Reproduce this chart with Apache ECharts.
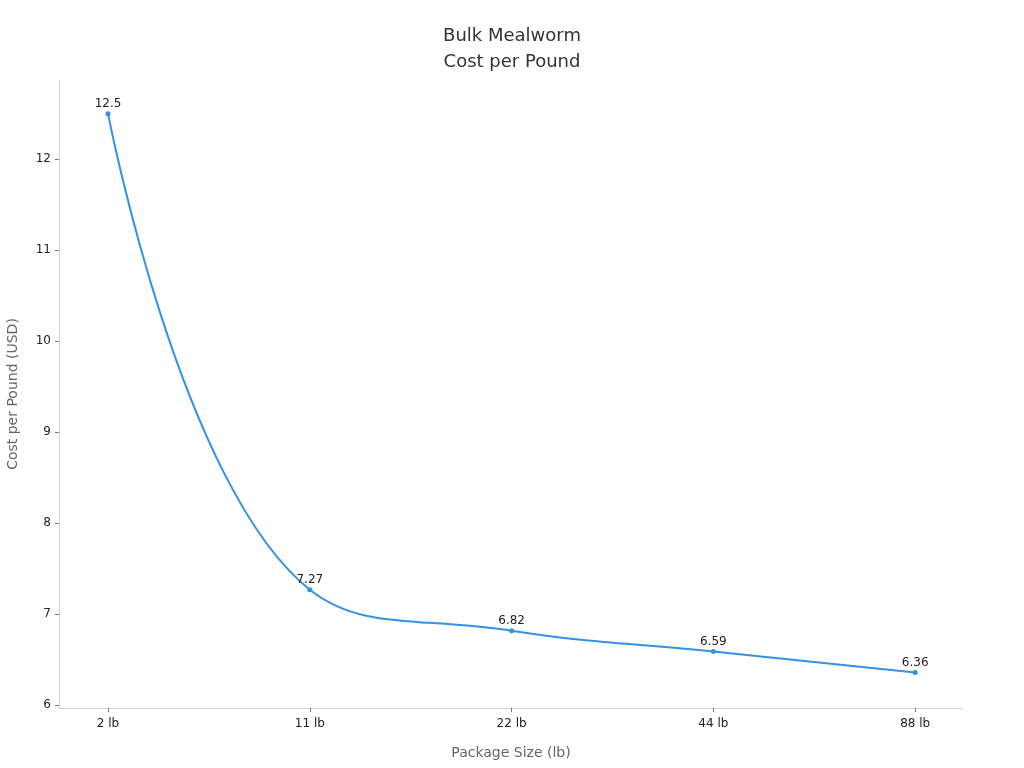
<!DOCTYPE html>
<html>
<head>
<meta charset="utf-8">
<script src="https://cdn.jsdelivr.net/npm/echarts@6/dist/echarts.min.js"></script>
<style>
  html, body { margin: 0; padding: 0; background: #fff; }
  #chart-container { width: 1024px; height: 768px; }
</style>
</head>
<body>
<div id="chart-container"></div>
<script>
// chart data
const packageSizes = ['2 lb', '11 lb', '22 lb', '44 lb', '88 lb'];
const costPerPound = [12.5, 7.27, 6.82, 6.59, 6.36];
const yTickValues = [6, 7, 8, 9, 10, 11, 12];

let myChart = echarts.init(document.getElementById('chart-container'));

// x positions are the category indexes, so a value axis can have some padding on the ends
let points = costPerPound.map((v, i) => [i, v]);

var option = {
    animation: false,
    textStyle: { fontFamily: 'DejaVu Sans' },
    title: {
        text: 'Bulk Mealworm\nCost per Pound',
        left: 'center',
        top: 18,
        textStyle: { fontSize: 18, fontWeight: 'normal', color: '#333', lineHeight: 26, fontFamily: 'DejaVu Sans' }
    },
    grid: { left: 59, right: 61, top: 80, bottom: 60, outerBoundsMode: 'none', containLabel: false },
    xAxis: {
        type: 'value',
        min: -0.243,
        max: 4.237,
        name: 'Package Size (lb)',
        nameLocation: 'middle',
        nameGap: 38,
        nameTextStyle: { color: '#666', fontSize: 14 },
        axisLine: { show: true, onZero: false, lineStyle: { color: '#d0d0d0' } },
        axisTick: { show: true, customValues: packageSizes.map((c, i) => i), length: 4, lineStyle: { color: '#777' } },
        axisLabel: {
            customValues: packageSizes.map((c, i) => i),
            color: '#222', fontSize: 12, margin: 10,
            formatter: v => packageSizes[Math.round(v)]
        },
        splitLine: { show: false }
    },
    yAxis: {
        type: 'value',
        min: 5.97,
        max: 12.87,
        name: 'Cost per Pound (USD)',
        nameLocation: 'middle',
        nameGap: 39,
        nameTextStyle: { color: '#666', fontSize: 14 },
        axisLine: { show: true, onZero: false, lineStyle: { color: '#d0d0d0' } },
        axisTick: { show: true, customValues: yTickValues, length: 4, lineStyle: { color: '#777' } },
        axisLabel: { customValues: yTickValues, color: '#222', fontSize: 12, margin: 8 },
        splitLine: { show: false }
    },
    series: [{
        name: 'Cost per Pound',
        type: 'line',
        data: points,
        smooth: 0.45,
        symbol: 'circle',
        symbolSize: 5,
        itemStyle: { color: '#3391e8' },
        lineStyle: { color: '#3391e8', width: 2 },
        label: { show: true, position: 'top', color: '#222', fontSize: 12, distance: 1,
                 formatter: p => p.value[1] }
    }]
};

myChart.setOption(option);
</script>
</body>
</html>
